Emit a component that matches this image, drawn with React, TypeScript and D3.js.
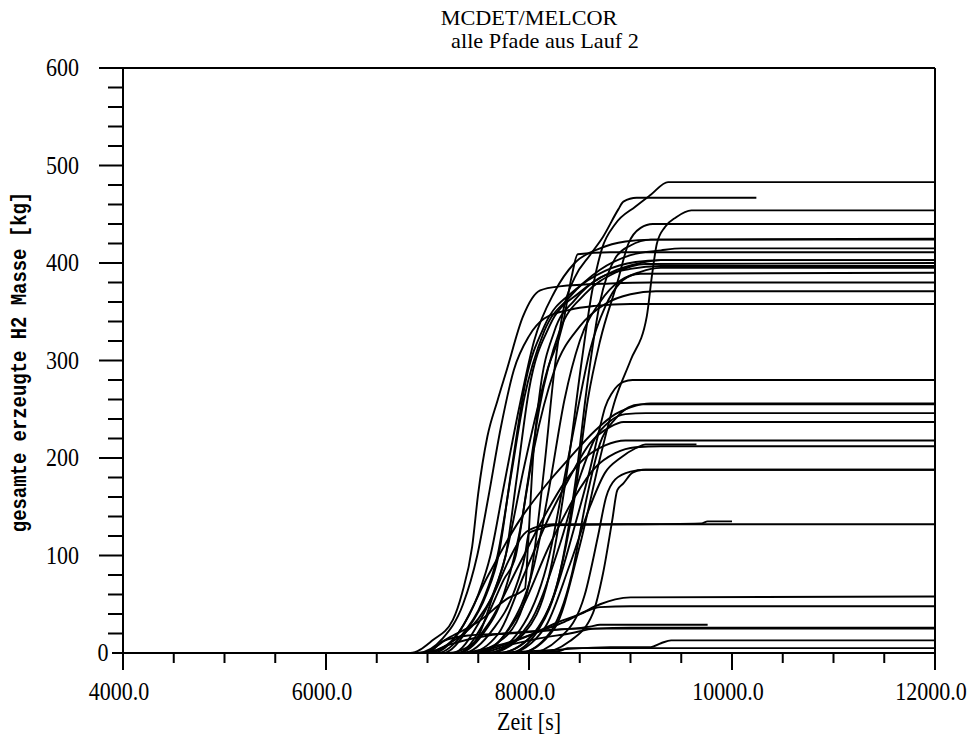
import React from 'react';
import * as d3 from 'd3';

// axis ticks
const xLabelTicks = [4000, 6000, 8000, 10000, 12000];
const yLabelTicks = [0, 100, 200, 300, 400, 500, 600];

// runs that rise early (roughly 6800-8400 s) into the upper plateaus
const earlyRuns: [number, number][][] = [
  [[4800, 0], [6830, 0], [7050, 13], [7250, 34], [7340, 61], [7440, 109], [7500, 164], [7590, 222], [7690, 259], [7780, 290], [7940, 345], [8110, 372], [8300, 376], [8800, 379], [9200, 380], [12000, 380]],
  [[4800, 0], [6900, 0], [7150, 15], [7350, 50], [7490, 100], [7600, 160], [7720, 230], [7850, 290], [8000, 325], [8150, 343], [8400, 352], [8650, 356], [9000, 358], [12000, 358]],
  [[4800, 0], [7050, 0], [7300, 20], [7500, 60], [7620, 100], [7750, 170], [7900, 250], [8050, 320], [8250, 370], [8450, 400], [8700, 415], [8950, 422], [9200, 424], [12000, 424]],
  [[4800, 0], [7100, 0], [7350, 20], [7550, 55], [7690, 100], [7820, 180], [7950, 260], [8150, 330], [8400, 365], [8700, 393], [9000, 408], [9300, 413], [9500, 415], [12000, 415]],
  [[4800, 0], [7150, 0], [7400, 25], [7580, 60], [7700, 100], [7830, 190], [7970, 280], [8150, 335], [8450, 372], [8750, 392], [9050, 401], [9300, 403], [12000, 403]],
  [[4800, 0], [7200, 0], [7450, 10], [7650, 60], [7770, 100], [7950, 190], [8180, 290], [8335, 338], [8420, 386], [8480, 409], [8800, 411], [12000, 411]],
  [[4800, 0], [7250, 0], [7500, 30], [7680, 70], [7770, 100], [7880, 180], [8000, 270], [8200, 335], [8500, 370], [8800, 390], [9100, 400], [9300, 403], [12000, 403]],
  [[4800, 0], [7300, 0], [7550, 30], [7750, 75], [7870, 100], [7980, 170], [8100, 250], [8300, 330], [8550, 368], [8850, 390], [9150, 399], [12000, 400]],
  [[4800, 0], [6950, 0], [7200, 15], [7500, 32], [7790, 56], [7960, 66], [7990, 110], [8040, 200], [8100, 262], [8250, 330], [8450, 362], [8700, 385], [9000, 394], [9300, 397], [12000, 397]],
  [[4800, 0], [7300, 0], [7550, 20], [7750, 60], [7900, 120], [8050, 210], [8250, 290], [8500, 335], [8750, 358], [9000, 368], [9250, 371], [12000, 371]],
];

// runs that rise late and steep (roughly 8000-9400 s) into the upper plateaus
const lateRuns: [number, number][][] = [
  [[4800, 0], [7500, 0], [7800, 25], [8050, 90], [8200, 170], [8350, 260], [8500, 320], [8700, 360], [8900, 382], [9100, 389], [12000, 390]],
  [[4800, 0], [7600, 0], [7950, 30], [8200, 100], [8350, 180], [8480, 250], [8600, 310], [8750, 355], [8900, 380], [9100, 391], [9300, 395], [12000, 395]],
  [[4800, 0], [7800, 0], [8100, 25], [8300, 80], [8450, 170], [8580, 280], [8700, 360], [8850, 405], [9000, 418], [9200, 424], [12000, 425]],
  [[4800, 0], [7700, 0], [8050, 20], [8300, 80], [8450, 160], [8580, 260], [8700, 320], [8870, 380], [8980, 420], [9100, 436], [9220, 440], [12000, 440]],
  [[4800, 0], [7900, 0], [8250, 25], [8500, 110], [8700, 200], [8850, 260], [9000, 300], [9160, 345], [9210, 386], [9260, 420], [9340, 437], [9450, 447], [9600, 454], [12000, 454]],
  [[4800, 0], [7400, 0], [7750, 15], [8000, 70], [8150, 190], [8250, 290], [8335, 350], [8450, 385], [8600, 408], [8730, 427], [8880, 455], [8930, 463], [9060, 467], [10240, 467]],
  [[4800, 0], [7600, 0], [7950, 20], [8200, 80], [8380, 190], [8520, 300], [8620, 370], [8720, 415], [8850, 440], [9050, 458], [9200, 470], [9370, 483], [12000, 483]],
];

// runs ending between about 130 and 280 kg
const midRuns: [number, number][][] = [
  [[4800, 0], [7700, 0], [8000, 15], [8250, 60], [8450, 130], [8600, 188], [8700, 232], [8750, 252], [8820, 267], [8930, 278], [9020, 280], [12000, 280]],
  [[4800, 0], [7900, 0], [8200, 20], [8420, 80], [8570, 160], [8700, 215], [8850, 240], [8980, 252], [9090, 255], [12000, 255]],
  [[4800, 0], [7000, 0], [7300, 20], [7600, 80], [7900, 135], [8150, 170], [8400, 200], [8650, 228], [8850, 245], [9000, 252], [9200, 256], [12000, 256]],
  [[4800, 0], [7600, 0], [8000, 30], [8300, 110], [8500, 180], [8650, 220], [8800, 238], [8950, 245], [9150, 246], [12000, 246]],
  [[4800, 0], [7400, 0], [7700, 20], [7950, 80], [8200, 140], [8400, 180], [8600, 215], [8800, 232], [8930, 237], [12000, 237]],
  [[4800, 0], [7300, 0], [7600, 30], [7900, 90], [8150, 140], [8350, 175], [8550, 200], [8750, 213], [8950, 218], [12000, 218]],
  [[4800, 0], [7800, 0], [8150, 25], [8400, 90], [8600, 150], [8750, 185], [8900, 200], [9050, 210], [9150, 214], [9650, 214]],
  [[4800, 0], [7500, 0], [7900, 40], [8200, 110], [8450, 160], [8650, 190], [8850, 205], [9050, 211], [9300, 212], [12000, 212]],
  [[4800, 0], [8100, 0], [8400, 12], [8630, 41], [8730, 82], [8820, 136], [8870, 167], [8930, 174], [9020, 185], [9120, 188], [12000, 188]],
  [[4800, 0], [8000, 0], [8300, 15], [8550, 60], [8680, 120], [8760, 160], [8850, 178], [9000, 186], [9150, 188], [12000, 188]],
  [[4800, 0], [6950, 0], [7250, 12], [7500, 35], [7650, 60], [7800, 95], [7950, 122], [8100, 130], [8240, 132], [12000, 132]],
  [[4800, 0], [7350, 0], [7650, 25], [7850, 62], [7960, 100], [8000, 123], [8100, 127], [8240, 131], [9700, 133], [9760, 135], [10000, 135]],
];

// runs staying below 60 kg
const lowRuns: [number, number][][] = [
  [[4800, 0], [7300, 0], [7700, 8], [8000, 18], [8250, 30], [8500, 40], [8700, 50], [8850, 55], [9000, 57], [12000, 58]],
  [[4800, 0], [7400, 0], [7800, 10], [8100, 22], [8350, 32], [8550, 42], [8700, 47], [9000, 48], [12000, 48]],
  [[4800, 0], [7000, 0], [7150, 12], [7400, 18], [7800, 20], [8300, 24], [8600, 27], [8700, 29], [9760, 29]],
  [[4800, 0], [7500, 0], [7800, 8], [8100, 15], [8400, 20], [8650, 25], [9000, 26], [12000, 26]],
  [[4800, 0], [7000, 0], [7200, 8], [7600, 18], [8000, 22], [8500, 25], [12000, 25]],
  [[4800, 0], [7600, 0], [8200, 3], [8800, 6], [9200, 6], [9300, 10], [9400, 13], [12000, 13]],
  [[4800, 0], [7800, 0], [8300, 2], [8380, 5], [12000, 5]],
];

const serif = '"Liberation Serif", "Times New Roman", serif';

// the original output uses a tall, slightly narrow Times face
function Label({ x, y, anchor = 'middle', size = 25, sx = 0.88, children }:
  { x: number; y: number; anchor?: string; size?: number; sx?: number; children: React.ReactNode }) {
  return (
    <text transform={`translate(${x},${y}) scale(${sx},1)`} textAnchor={anchor} fontFamily={serif} fontSize={size}>
      {children}
    </text>
  );
}

export default function App() {
  const width = 972, height = 744;
  const left = 123, right = 935, top = 68, bottom = 653;

  const x = d3.scaleLinear().domain([4000, 12000]).range([left, right]);
  const y = d3.scaleLinear().domain([0, 600]).range([bottom, top]);

  const line = d3.line<[number, number]>()
    .x(d => x(d[0]))
    .y(d => y(d[1]))
    .curve(d3.curveMonotoneX);

  const allRuns = [...earlyRuns, ...lateRuns, ...midRuns, ...lowRuns];
  const xMinor = d3.range(4000, 12001, 500);
  const yMinor = d3.range(0, 601, 20);
  const fmt = d3.format('.1f');

  return (
    <svg width={width} height={height} style={{ display: 'block', position: 'absolute', left: 0, top: 0, background: '#fff' }}>
      <defs>
        <clipPath id="plot">
          <rect x={left} y={top} width={right - left} height={bottom - top + 1} />
        </clipPath>
      </defs>

      <Label x={529} y={25} size={21} sx={1.06}>MCDET/MELCOR</Label>
      <Label x={545} y={48} size={21} sx={1.06}>alle Pfade aus Lauf 2</Label>

      <g clipPath="url(#plot)" fill="none" stroke="#000" strokeWidth={1.9}>
        {allRuns.map((run, i) => <path key={i} d={line(run) ?? ''} />)}
      </g>

      {/* frame */}
      <g stroke="#000" strokeWidth={2} fill="none">
        <line x1={left} x2={left} y1={top} y2={bottom} />
        <line x1={left} x2={right} y1={bottom} y2={bottom} />
        <line x1={left} x2={right} y1={top} y2={top} />
        <line x1={right} x2={right} y1={top} y2={bottom} />
      </g>

      {/* y axis */}
      <g stroke="#000" strokeWidth={2}>
        {yMinor.map(v => (
          <line key={v} x1={v === 0 ? left - 11 : v % 100 === 0 ? left - 24 : left - 15} x2={left} y1={y(v)} y2={y(v)} />
        ))}
      </g>
      {yLabelTicks.map(v => (
        v === 0
          ? <Label key={v} x={103} y={y(v) + 8}>{v}</Label>
          : <Label key={v} x={79} y={y(v) + 8} anchor="end">{v}</Label>
      ))}

      {/* x axis */}
      <g stroke="#000" strokeWidth={2}>
        {xMinor.map(v => (
          <line key={v} x1={x(v)} x2={x(v)} y1={bottom} y2={v % 2000 === 0 ? bottom + 17 : bottom + 10} />
        ))}
      </g>
      {xLabelTicks.map(v => (
        <Label key={v} x={x(v) - 4} y={700}>{fmt(v)}</Label>
      ))}

      <Label x={529} y={730}>Zeit [s]</Label>
      <text
        transform="translate(26,362) rotate(-90) scale(0.86,1)"
        textAnchor="middle"
        fontFamily='"Liberation Mono", "DejaVu Sans Mono", monospace'
        fontWeight="bold"
        fontSize={22}
      >gesamte erzeugte H2 Masse [kg]</text>
    </svg>
  );
}
